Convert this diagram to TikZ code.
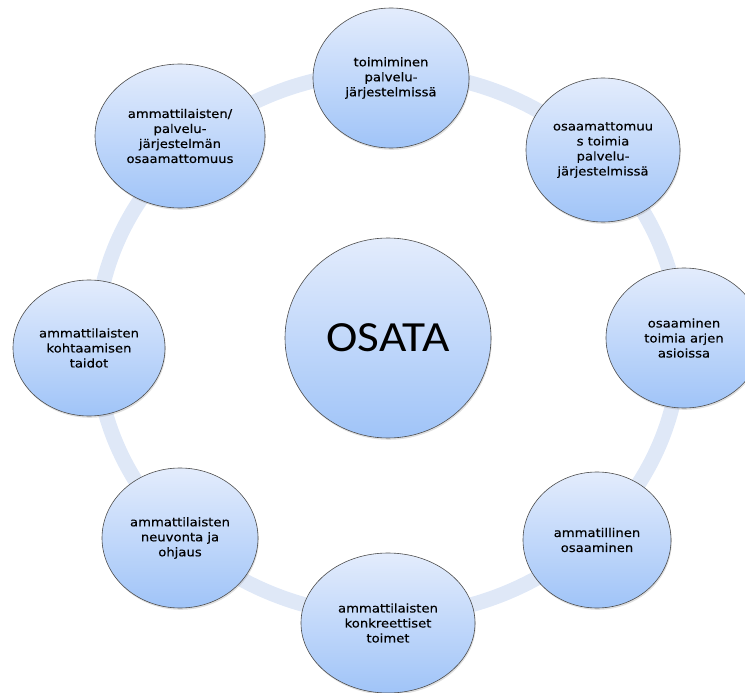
\documentclass[tikz,border=0pt]{standalone}
\usepackage{fontspec}
\usepackage{tikz}
\usetikzlibrary{shapes.geometric,shadows}
\newfontfamily\ballfont[FakeStretch=1.1,FakeBold=0.4]{DejaVu Sans}
\newfontfamily\hubfont[FakeStretch=1.1]{Carlito}
\definecolor{ringblue}{RGB}{223,232,247}
\definecolor{balltop}{RGB}{227,236,252}
\definecolor{ballbottom}{RGB}{160,196,248}
\tikzset{>=latex}

\begin{document}
\begin{tikzpicture}[x=1pt,y=-1pt,
	ball/.style={ellipse,draw=black!70,line width=0.6pt,top color=balltop,bottom color=ballbottom,
		drop shadow={opacity=0.25,shadow xshift=0.8pt,shadow yshift=-1.8pt},
		minimum width=156pt,minimum height=140pt,inner sep=0pt,align=center,
		font=\ballfont\fontsize{12}{15}\selectfont,text=black}]
	\useasboundingbox (0,0) rectangle (745,693);
	\clip (0,0) rectangle (745,693);
	% the ring behind the balls
	\draw[ringblue,line width=15pt] (388,344) ellipse [x radius=292,y radius=272];
	\node[ball,minimum width=206pt,minimum height=200pt,font=\hubfont\fontsize{43}{50}\selectfont] (osata) at (388,338) {OSATA};
	\node[ball] (toimiminen) at (391,78) {toimiminen\\palvelu-\\järjestelmissä};
	\node[ball,minimum width=154pt,minimum height=144pt] (osaamattomuus) at (603,150) {osaamattomuu\\s toimia\\palvelu-\\järjestelmissä};
	\node[ball] (arki) at (684,338) {osaaminen\\toimia arjen\\asioissa};
	\node[ball,minimum width=148pt,minimum height=136pt] (ammatillinen) at (597,540) {ammatillinen\\osaaminen};
	\node[ball,minimum width=174pt] (toimet) at (388,623) {ammattilaisten\\konkreettiset\\toimet};
	\node[ball] (neuvonta) at (180,538) {ammattilaisten\\neuvonta ja\\ohjaus};
	\node[ball,minimum width=152pt,minimum height=136pt] (kohtaaminen) at (89,348) {ammattilaisten\\kohtaamisen\\taidot};
	\node[ball,minimum width=170pt,minimum height=144pt] (jarjestelma) at (180,136) {ammattilaisten/\\palvelu-\\järjestelmän\\osaamattomuus};
\end{tikzpicture}
\end{document}
